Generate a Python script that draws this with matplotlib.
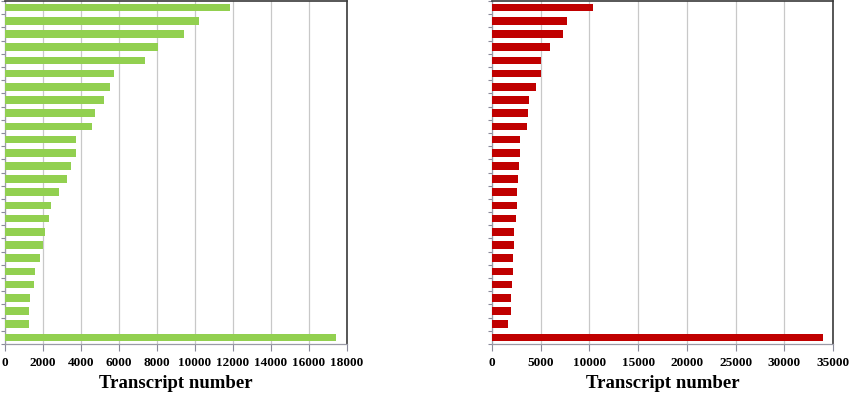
import numpy as np
import matplotlib.pyplot as plt

# transcript counts, top bar first
green_counts = [11850, 10190, 9440, 8050, 7370, 5750, 5540, 5190, 4720, 4580,
                3740, 3720, 3470, 3260, 2860, 2420, 2300, 2100, 2020, 1840,
                1560, 1530, 1330, 1280, 1250, 17420]
red_counts = [10340, 7740, 7260, 5960, 5000, 5000, 4560, 3840, 3670, 3560,
              2910, 2880, 2740, 2670, 2530, 2530, 2500, 2260, 2230, 2160,
              2120, 2090, 1990, 1950, 1680, 34010]

green_xticks = list(range(0, 18001, 2000))
red_xticks = list(range(0, 35001, 5000))

plt.rcParams['font.family'] = ['Liberation Serif', 'DejaVu Serif']

fig = plt.figure(figsize=(8.5, 3.93), dpi=100)
W, H = 850, 393


def draw_panel(rect, counts, color, xticks):
    ax = fig.add_axes([rect[0] / W, 1 - rect[3] / H, (rect[2] - rect[0]) / W, (rect[3] - rect[1]) / H])
    pos = np.arange(len(counts))
    ax.barh(pos, counts, height=0.58, color=color, zorder=3)
    ax.set_ylim(len(counts) - 0.5, -0.5)
    ax.set_xlim(xticks[0], xticks[-1])
    ax.set_xticks(xticks)
    ax.set_xticklabels([str(t) for t in xticks], fontsize=9.5, fontweight='bold')
    ax.set_yticks(np.arange(-0.5, len(counts), 1.0))
    ax.set_yticklabels([])
    ax.tick_params(axis='y', length=3, color='#8a8a9a', width=0.8)
    ax.tick_params(axis='x', length=5, color='#8a8a9a', width=0.8, pad=4)
    ax.grid(axis='x', color='#c8c8c8', linewidth=0.9, zorder=0)
    for side in ['left', 'bottom']:
        ax.spines[side].set_color('#9a9aa6')
        ax.spines[side].set_linewidth(0.9)
    for side in ['top', 'right']:
        ax.spines[side].set_color('#3a3a3a')
        ax.spines[side].set_linewidth(1.2)
    ax.set_xlabel('Transcript number', fontsize=13.5, fontweight='bold', labelpad=5)
    return ax


draw_panel((5, 1, 347, 344), green_counts, '#92d050', green_xticks)
draw_panel((492, 1, 833, 344), red_counts, '#c00000', red_xticks)

fig.savefig('out.png', dpi=100)
